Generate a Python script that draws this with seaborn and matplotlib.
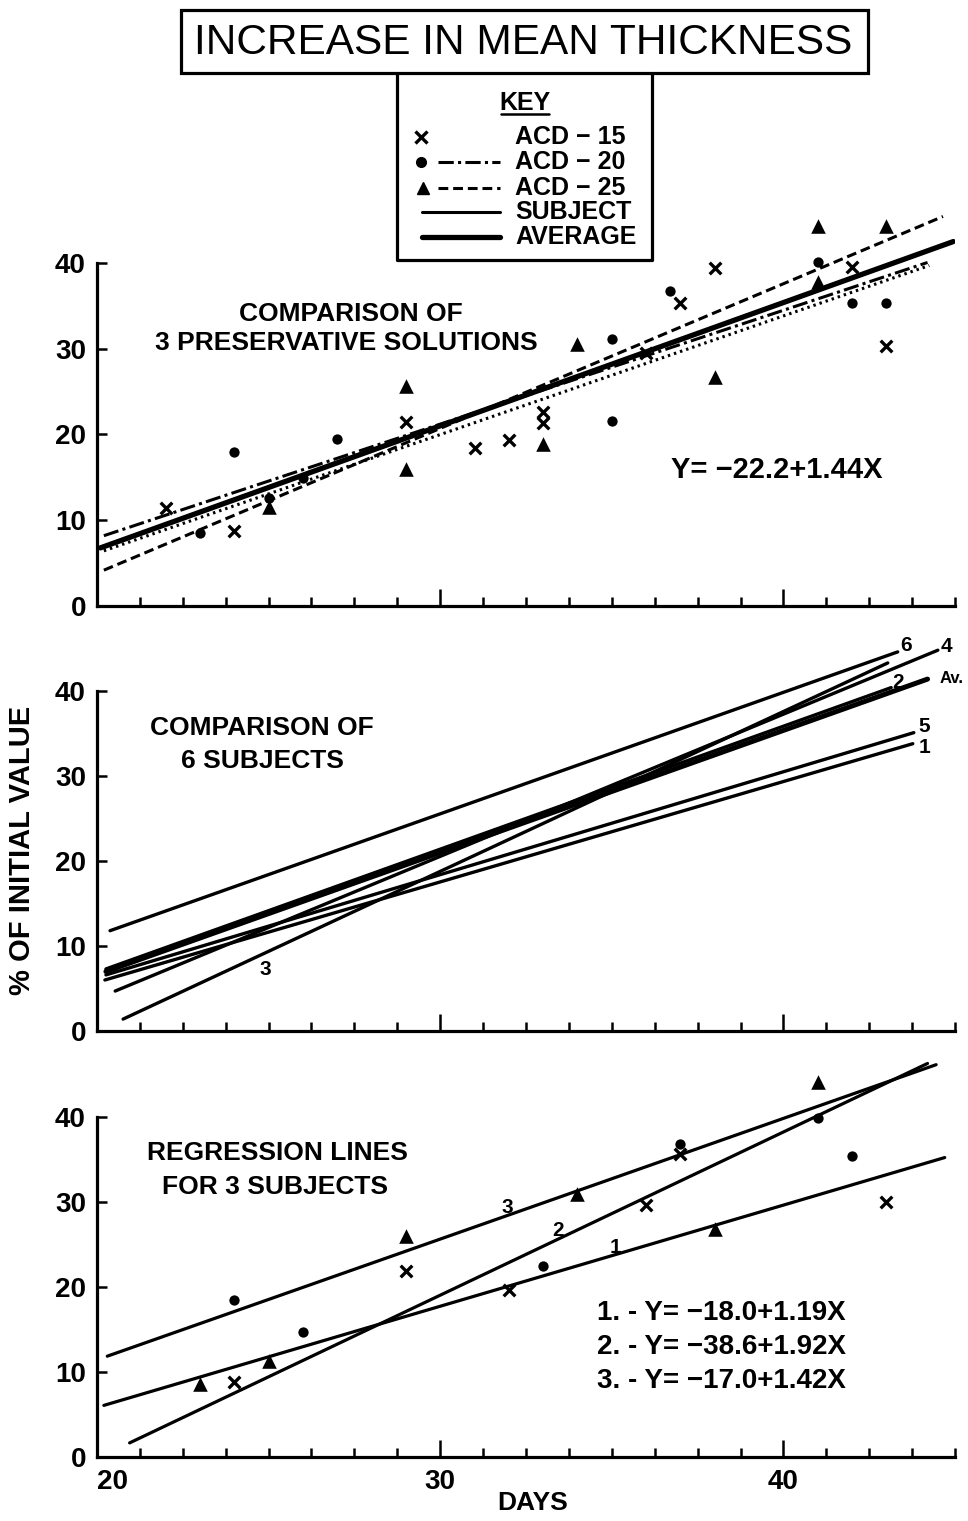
import numpy as np
import pandas as pd
import matplotlib
matplotlib.use('Agg')
import matplotlib.pyplot as plt
import seaborn as sns
from matplotlib.ticker import MultipleLocator
from matplotlib.patches import Rectangle

sns.set_theme(style='white')
plt.rcParams['font.family'] = ['Liberation Sans', 'DejaVu Sans']
plt.rcParams['font.weight'] = 'bold'
plt.rcParams['text.color'] = 'black'

# --- top panel: points per preservative solution ---
acd15_day = [22, 24, 29, 31, 32, 33, 33, 36, 37, 38, 42, 43]
acd15_pct = [11.4, 8.7, 21.5, 18.4, 19.4, 22.6, 21.3, 29.5, 35.4, 39.4, 39.5, 30.3]
acd20_day = [23, 24, 25, 26, 27, 35, 35, 36.7, 41, 42, 43]
acd20_pct = [8.5, 18.0, 12.6, 14.9, 19.5, 31.1, 21.6, 36.7, 40.1, 35.4, 35.4]
acd25_day = [25, 29, 29, 33, 34, 38, 41, 41, 43]
acd25_pct = [11.5, 25.7, 16.0, 18.9, 30.6, 26.7, 37.8, 44.4, 44.4]

# top panel regression lines (intercept, slope, day range)
top_names = ['ACD-15', 'ACD-20', 'ACD-25', 'AVERAGE']
top_icpt = [-21.6, -18.7, -30.0, -22.2]
top_slope = [1.386, 1.33, 1.69, 1.44]
top_start = [20.2, 20.2, 20.2, 20.1]
top_end = [44.25, 44.2, 44.65, 44.95]

# --- middle panel: subject lines (start / end) ---
mid_names = ['1', '2', '3', '4', '5', '6', 'Av.']
mid_x0 = [20.23, 20.26, 20.76, 20.53, 20.26, 20.38, 20.26]
mid_y0 = [6.0, 7.3, 1.4, 4.7, 6.6, 11.8, 7.0]
mid_x1 = [43.77, 43.14, 43.04, 44.5, 43.8, 43.33, 44.2]
mid_y1 = [33.8, 40.4, 43.3, 44.8, 35.1, 44.6, 41.4]
mid_lbl_x = [44.1, 43.35, 24.9, 44.74, 44.1, 43.58, 44.89]
mid_lbl_y = [33.4, 41.0, 7.2, 45.2, 35.8, 45.4, 41.5]

# --- bottom panel: 3 subjects ---
bot_x_day = [24, 29, 32, 36, 37, 43]
bot_x_pct = [8.8, 21.8, 19.6, 29.6, 35.6, 30.0]
bot_dot_day = [24, 26, 33, 37, 41, 42]
bot_dot_pct = [18.4, 14.7, 22.4, 36.8, 39.9, 35.4]
bot_tri_day = [23, 25, 29, 34, 38, 41]
bot_tri_pct = [8.6, 11.3, 26.0, 30.9, 26.8, 44.1]
bot_icpt = [-18.0, -38.6, -17.0]
bot_slope = [1.19, 1.92, 1.42]
bot_start = [20.2, 20.95, 20.3]
bot_end = [44.7, 44.2, 44.45]
bot_lbl_x = [35.1, 33.42, 31.96]
bot_lbl_y = [24.6, 26.6, 29.3]
bot_eqs = ['1. - Y= \u221218.0+1.19X', '2. - Y= \u221238.6+1.92X', '3. - Y= \u221217.0+1.42X']

W, H = 968, 1521
fig = plt.figure(figsize=(W / 100, H / 100), dpi=100)

def panel(zero_px, px_per_unit):
    return fig.add_axes([97 / W, (H - zero_px) / H, 858 / W, 48 * px_per_unit / H])

ax_top = panel(605.6, 8.56)
ax_mid = panel(1031, 8.5)
ax_bot = panel(1456.7, 8.5)

for ax in (ax_top, ax_mid, ax_bot):
    ax.set_xlim(20, 45)
    ax.set_ylim(0, 48)
    ax.patch.set_alpha(0)
    for s in ('top', 'right'):
        ax.spines[s].set_visible(False)
    for s in ('left', 'bottom'):
        ax.spines[s].set_linewidth(2.3)
        ax.spines[s].set_color('black')
    ax.spines['left'].set_bounds(0, 40)
    ax.set_yticks([0, 10, 20, 30, 40])
    ax.set_xticks([20, 30, 40])
    ax.xaxis.set_minor_locator(MultipleLocator(1.25))
    ax.tick_params(axis='y', direction='in', length=7, width=1.8, labelsize=20,
                   pad=8, left=True, colors='black')
    ax.tick_params(axis='x', which='major', direction='in', length=12, width=1.8,
                   labelsize=20, pad=9, bottom=True, colors='black')
    ax.tick_params(axis='x', which='minor', direction='in', length=6.5, width=1.8,
                   bottom=True, colors='black')
    ax.set_xlabel('')
    ax.set_ylabel('')

ax_top.tick_params(axis='x', labelbottom=False)
ax_mid.tick_params(axis='x', labelbottom=False)
ax_bot.set_xticks([20, 30, 40], ['20', '30', '40'])
ax_bot.get_xticklabels()[0].set_ha('left')


def reg_line(ax, x0, x1, b0, b1, **kw):
    xs = np.array([x0, x1])
    sns.lineplot(x=xs, y=b0 + b1 * xs, ax=ax, color='black', **kw)


def points(ax, days, pcts, marker):
    sizes = {'x': 70, 'o': 55, '^': 110}
    sns.scatterplot(x=days, y=pcts, ax=ax, marker=marker, color='black',
                    s=sizes[marker], linewidth=2.4 if marker == 'x' else 0,
                    edgecolor='black', zorder=5, clip_on=False)


styles = {
    'ACD-15': dict(lw=2.2, linestyle=(0, (0.8, 1.3))),
    'ACD-20': dict(lw=2.2, linestyle=(0, (5, 1.4, 1, 1.4))),
    'ACD-25': dict(lw=2.2, linestyle=(0, (3.2, 1.6))),
    'AVERAGE': dict(lw=3.8),
}

# top panel
for name, b0, b1, x0, x1 in zip(top_names, top_icpt, top_slope, top_start, top_end):
    reg_line(ax_top, x0, x1, b0, b1, **styles[name])
points(ax_top, acd15_day, acd15_pct, 'x')
points(ax_top, acd20_day, acd20_pct, 'o')
points(ax_top, acd25_day, acd25_pct, '^')

# middle panel
for name, x0, y0, x1, y1, lx, ly in zip(mid_names, mid_x0, mid_y0, mid_x1, mid_y1,
                                         mid_lbl_x, mid_lbl_y):
    sns.lineplot(x=[x0, x1], y=[y0, y1], ax=ax_mid, color='black',
                 lw=3.6 if name == 'Av.' else 2.4)
    ax_mid.text(lx, ly, name, fontsize=12 if name == 'Av.' else 15,
                ha='center', va='center', color='black')

# bottom panel
for i in range(3):
    reg_line(ax_bot, bot_start[i], bot_end[i], bot_icpt[i], bot_slope[i], lw=2.3)
    ax_bot.text(bot_lbl_x[i], bot_lbl_y[i], str(i + 1), fontsize=15,
                ha='center', va='center', color='black')
points(ax_bot, bot_x_day, bot_x_pct, 'x')
points(ax_bot, bot_dot_day, bot_dot_pct, 'o')
points(ax_bot, bot_tri_day, bot_tri_pct, '^')

# overlay in pixel coordinates for titles, key and labels
ov = fig.add_axes([0, 0, 1, 1], zorder=10)
ov.set_xlim(0, W)
ov.set_ylim(H, 0)
ov.axis('off')
ov.patch.set_alpha(0)

ov.add_patch(Rectangle((181, 10), 687, 63, fill=True, facecolor='white',
                       edgecolor='black', lw=2.3))
ov.text(523, 43, 'INCREASE IN MEAN THICKNESS', fontsize=30.5, fontweight='normal',
        ha='center', va='center')
ov.plot([397, 397, 652, 652], [73, 260, 260, 73], color='black', lw=2.3)

ov.text(525, 103, 'KEY', fontsize=18, ha='center', va='center')
ov.plot([501, 549], [114, 114], color='black', lw=1.8)
key_y = [137, 162, 188, 212, 237]
key_txt = ['ACD \u2212 15', 'ACD \u2212 20', 'ACD \u2212 25', 'SUBJECT', 'AVERAGE']
for y, t in zip(key_y, key_txt):
    ov.text(515, y, t, fontsize=18, ha='left', va='center')
ov.plot([421], [key_y[0]], marker='x', color='black', ms=8, mew=2.4)
ov.plot([421], [key_y[1]], marker='o', color='black', ms=7)
ov.plot([423], [key_y[2]], marker='^', color='black', ms=9)
ov.plot([438, 500], [key_y[1]] * 2, color='black', **styles['ACD-20'])
ov.plot([438, 500], [key_y[2]] * 2, color='black', **styles['ACD-25'])
ov.plot([422, 500], [key_y[3]] * 2, color='black', lw=2.2)
ov.plot([422, 500], [key_y[4]] * 2, color='black', lw=3.8)

ov.text(351, 314, 'COMPARISON OF', fontsize=19, ha='center', va='center')
ov.text(346, 343, '3 PRESERVATIVE SOLUTIONS', fontsize=19, ha='center', va='center')
ov.text(777, 470, 'Y= \u221222.2+1.44X', fontsize=21, ha='center', va='center')

ov.text(262, 728, 'COMPARISON OF', fontsize=19, ha='center', va='center')
ov.text(262, 761, '6 SUBJECTS', fontsize=19, ha='center', va='center')

ov.text(277, 1153, 'REGRESSION LINES', fontsize=19, ha='center', va='center')
ov.text(275, 1187, 'FOR 3 SUBJECTS', fontsize=19, ha='center', va='center')
for y, t in zip([1313, 1347, 1381], bot_eqs):
    ov.text(597, y, t, fontsize=20, ha='left', va='center')

ov.text(22, 850, '% OF INITIAL VALUE', fontsize=21, rotation=90, ha='center', va='center')
ov.text(533, 1503, 'DAYS', fontsize=19, ha='center', va='center')

fig.savefig('out.png', dpi=100, facecolor='white')
